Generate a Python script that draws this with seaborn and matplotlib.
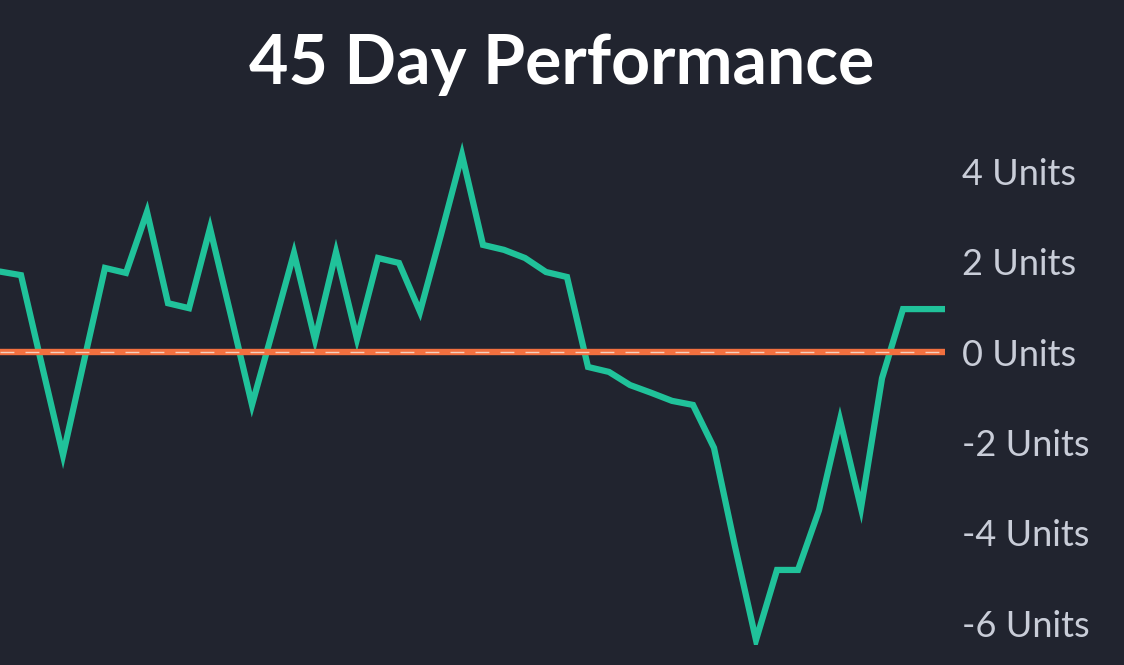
import numpy as np
import pandas as pd
import seaborn as sns
import matplotlib.pyplot as plt

# daily cumulative units
days = list(range(46))
units = [1.78, 1.70, -0.30, -2.28, -0.20, 1.86, 1.75, 3.10, 1.08, 0.97,
         2.74, 0.80, -1.17, 0.50, 2.19, 0.27, 2.21, 0.29, 2.08, 1.97,
         0.89, 2.60, 4.36, 2.37, 2.26, 2.08, 1.77, 1.66, -0.33, -0.44,
         -0.73, -0.90, -1.08, -1.17, -2.12, -4.30, -6.37, -4.82, -4.82, -3.50,
         -1.50, -3.45, -0.58, 0.95, 0.95, 0.95]
tick_values = [4, 2, 0, -2, -4, -6]
tick_labels = ['4 Units', '2 Units', '0 Units', '-2 Units', '-4 Units', '-6 Units']

bg = '#21242f'
green = '#20c29a'
orange = '#f2703f'
label_color = '#c9cdd8'

sns.set_style('dark', {'axes.facecolor': bg, 'figure.facecolor': bg})
plt.rcParams['font.family'] = ['Lato', 'DejaVu Sans']

df = pd.DataFrame({'day': days, 'units': units})

fig = plt.figure(figsize=(11.24, 6.65), dpi=100)
ax = fig.add_axes([0.0, 1 - 645 / 665, 945 / 1124, 505 / 665])

sns.lineplot(data=df, x='day', y='units', ax=ax, color=green, linewidth=4.5,
             solid_joinstyle='miter', zorder=2)
ax.axhline(0, color=orange, linewidth=4.6, zorder=3)
ax.axhline(0, color='#f6e9df', linewidth=1.0, dashes=(10, 8), alpha=0.8, zorder=4)

ax.set_xlim(0, 45)
ax.set_ylim(-6.48, 4.69)
ax.set_xlabel('')
ax.set_ylabel('')
ax.set_xticks([])
ax.yaxis.tick_right()
ax.set_yticks(tick_values)
ax.set_yticklabels(tick_labels)
ax.tick_params(axis='y', length=0, pad=12, labelsize=26, labelcolor=label_color)
ax.grid(False)
for s in ax.spines.values():
    s.set_visible(False)

fig.text(0.5, 1 - 65 / 665, '45 Day Performance', ha='center', va='center',
         fontsize=49, fontweight='bold', color='white')

fig.savefig('out.png', dpi=100, facecolor=bg)
